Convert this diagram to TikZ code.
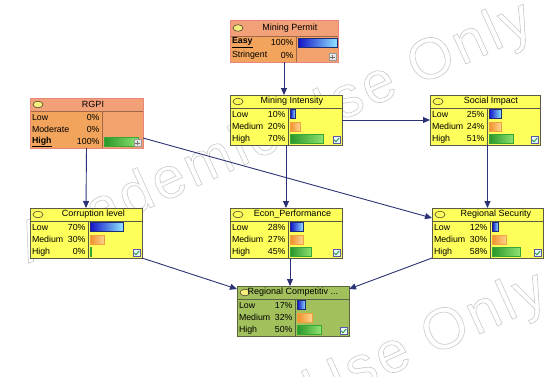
\documentclass[tikz,border=0pt]{standalone}
\usepackage{fontspec}
\setmainfont{Liberation Sans}
\newfontfamily\wmfont[LetterSpace=6]{Liberation Sans}
\usetikzlibrary{arrows.meta,calc}
\definecolor{connc}{HTML}{2B3275}
\definecolor{orBody}{HTML}{F2A45C}
\definecolor{orTitle}{HTML}{F2A078}
\definecolor{orPanel}{HTML}{F2A26C}
\definecolor{orLine}{HTML}{A06848}
\definecolor{orFrame}{HTML}{E8867E}
\definecolor{ylBody}{HTML}{FFFF5C}
\definecolor{ylLine}{HTML}{5A5A48}
\definecolor{grBody}{HTML}{A2C15C}
\definecolor{grLine}{HTML}{5A6440}
\definecolor{ovFill}{HTML}{F6EE7C}
\definecolor{ovLine}{HTML}{504830}
\definecolor{bBlueL}{HTML}{1414C8}
\definecolor{bBlueR}{HTML}{90E8FF}
\definecolor{bBlueD}{HTML}{1E2C78}
\definecolor{bOrL}{HTML}{F0922E}
\definecolor{bOrR}{HTML}{FFD690}
\definecolor{bOrD}{HTML}{F0A040}
\definecolor{bGrL}{HTML}{2A982A}
\definecolor{bGrR}{HTML}{8EE270}
\definecolor{bGrD}{HTML}{36A636}
\definecolor{chkc}{HTML}{1F9A3A}
\tikzset{
  every node/.style={inner sep=0pt,outer sep=0pt},
  conn/.style={draw=connc,line width=0.9pt,-{Triangle[length=7pt,width=6pt]}},
  rowtext/.style={font=\fontsize{8.8}{10}\selectfont},
  titletext/.style={font=\fontsize{9}{10}\selectfont},
  orangebody/.style={fill=orBody}, orangetitle/.style={fill=orTitle}, orangepanel/.style={fill=orPanel},
  orangeline/.style={draw=orLine,line width=0.7pt}, orangeframe/.style={draw=orFrame,line width=1pt},
  orangeoval/.style={draw=ovLine,fill=ovFill,line width=0.6pt},
  yellowbody/.style={fill=ylBody}, yellowtitle/.style={fill=ylBody}, yellowpanel/.style={fill=ylBody},
  yellowline/.style={draw=ylLine,line width=0.7pt}, yellowframe/.style={draw=ylLine,line width=1pt},
  yellowoval/.style={draw=ovLine,fill=ylBody,line width=0.6pt},
  greenbody/.style={fill=grBody}, greentitle/.style={fill=grBody}, greenpanel/.style={fill=grBody},
  greenline/.style={draw=grLine,line width=0.7pt}, greenframe/.style={draw=grLine,line width=1pt},
  greenoval/.style={draw=ovLine,fill=ovFill,line width=0.6pt},
  bluebar/.style={left color=bBlueL,right color=bBlueR,draw=bBlueD,line width=0.5pt},
  orangebar/.style={left color=bOrL,right color=bOrR,draw=bOrD,line width=0.5pt},
  greenbar/.style={left color=bGrL,right color=bGrR,draw=bGrD,line width=0.5pt},
  iconbox/.style={fill=white!92!cyan,draw=gray!70!blue,line width=0.5pt},
  plusbox/.style={fill=gray!20,draw=gray!80,line width=0.5pt},
  watermark/.style={rotate=24.5,text=gray!42,font=\wmfont\fontsize{58}{58}\selectfont}
}
% kind, id, x, y, w, h, title height, divider x
\newcommand\bnbox[8]{%
  \fill[#1body] (#3,#4) rectangle ++(#5,#6);
  \fill[#1title] (#3,#4) rectangle ++(#5,#7);
  \fill[#1panel] (#8,#4+#7) rectangle (#3+#5,#4+#6);
  \draw[#1line] (#3,#4+#7) -- ++(#5,0);
  \draw[#1line] (#8,#4+#7) -- (#8,#4+#6);
  \node[#1frame,anchor=north west,minimum width=#5pt,minimum height=#6pt] (#2) at (#3,#4) {};}
% kind, id, x, y, title height, title centre x, text
\newcommand\bntitle[7]{%
  \draw[#1oval] (#3+8,#4+#5/2) ellipse [x radius=5pt,y radius=3.3pt];
  \node[titletext] (#2t) at (#6,#4+#5/2) {#7};}
% id, x, y centre, divider x, label, pct, bar length, bar kind
\newcommand\bnrow[8]{%
  \node[rowtext,anchor=west] (#1a) at (#2+2,#3) {#5};
  \node[rowtext,anchor=east] (#1b) at (#4-2.5,#3) {#6};
  \ifdim#7pt>0pt \draw[#8bar] (#4+2.5,#3-4.5) rectangle ++(#7,9);\fi}
\newcommand\bncheck[1]{%
  \draw[iconbox] ($(#1.south east)+(-9,-1.5)$) rectangle ++(7,-7);
  \draw[chkc,line width=0.9pt] ($(#1.south east)+(-7.6,-5)$) -- ++(1.6,1.8) -- ++(3.2,-3.8);}
\newcommand\bnplus[1]{%
  \draw[plusbox] ($(#1.south east)+(-9,-1.5)$) rectangle ++(7,-7);
  \draw[gray!90!black,line width=0.6pt] ($(#1.south east)+(-5.5,-2.8)$) -- ++(0,-4.4)
    ($(#1.south east)+(-7.7,-5)$) -- ++(4.4,0);}
\begin{document}
\begin{tikzpicture}[x=1pt,y=-1pt]
\useasboundingbox (0,0) rectangle (550,376);
\clip (0,0) rectangle (550,376);
\fill[white] (0,0) rectangle (550,376);
% watermark
\node[watermark] (wm1) at (276,134) {\special{pdf:literal direct 0.6 w 1 Tr}Academic Use Only\special{pdf:literal direct 0 Tr}};
\node[watermark] (wm2) at (290,404) {\special{pdf:literal direct 0.6 w 1 Tr}Academic Use Only\special{pdf:literal direct 0 Tr}};
% Mining Permit
\bnbox{orange}{MP}{230}{20}{108}{42}{16}{296}
\bntitle{orange}{MP}{230}{20}{16}{290}{Mining Permit}
\bnrow{MPr1}{230}{42.5}{296}{\underline{\textbf{Easy}}}{100\%}{39}{blue}
\bnrow{MPr2}{230}{55.5}{296}{Stringent}{0\%}{0}{blue}
\bnplus{MP}
% RGPI
\bnbox{orange}{RGPI}{30}{98}{113}{50}{13}{102}
\bntitle{orange}{RGPI}{30}{98}{13}{93}{RGPI}
\bnrow{RGr1}{30}{117.2}{102}{Low}{0\%}{0}{blue}
\bnrow{RGr2}{30}{129.5}{102}{Moderate}{0\%}{0}{orange}
\bnrow{RGr3}{30}{141.8}{102}{\underline{\textbf{High}}}{100\%}{34}{green}
\bnplus{RGPI}
% Mining Intensity
\bnbox{yellow}{MI}{230}{95}{112}{50}{13}{288}
\bntitle{yellow}{MI}{230}{95}{13}{292}{Mining Intensity}
\bnrow{MIr1}{230}{114.2}{288}{Low}{10\%}{4.7}{blue}
\bnrow{MIr2}{230}{126.5}{288}{Medium}{20\%}{9.4}{orange}
\bnrow{MIr3}{230}{138.8}{288}{High}{70\%}{32.9}{green}
\bncheck{MI}
% Social Impact
\bnbox{yellow}{SI}{430}{95}{110}{50}{13}{487}
\bntitle{yellow}{SI}{430}{95}{13}{491}{Social Impact}
\bnrow{SIr1}{430}{114.2}{487}{Low}{25\%}{11.8}{blue}
\bnrow{SIr2}{430}{126.5}{487}{Medium}{24\%}{11.3}{orange}
\bnrow{SIr3}{430}{138.8}{487}{High}{51\%}{24}{green}
\bncheck{SI}
% Corruption level
\bnbox{yellow}{CL}{30}{208}{112}{50}{13}{88}
\bntitle{yellow}{CL}{30}{208}{13}{93.5}{Corruption level}
\bnrow{CLr1}{30}{227.2}{88}{Low}{70\%}{32.9}{blue}
\bnrow{CLr2}{30}{239.5}{88}{Medium}{30\%}{14.1}{orange}
\bnrow{CLr3}{30}{251.8}{88}{High}{0\%}{0.6}{green}
\bncheck{CL}
% Econ_Performance
\bnbox{yellow}{EP}{230}{208}{112}{50}{13}{288}
\bntitle{yellow}{EP}{230}{208}{13}{292.5}{Econ\_Performance}
\bnrow{EPr1}{230}{227.2}{288}{Low}{28\%}{13.2}{blue}
\bnrow{EPr2}{230}{239.5}{288}{Medium}{27\%}{12.7}{orange}
\bnrow{EPr3}{230}{251.8}{288}{High}{45\%}{21.2}{green}
\bncheck{EP}
% Regional Security
\bnbox{yellow}{RS}{432}{208}{111}{50}{13}{490}
\bntitle{yellow}{RS}{432}{208}{13}{496}{Regional Security}
\bnrow{RSr1}{432}{227.2}{490}{Low}{12\%}{5.6}{blue}
\bnrow{RSr2}{432}{239.5}{490}{Medium}{30\%}{14.1}{orange}
\bnrow{RSr3}{432}{251.8}{490}{High}{58\%}{27.3}{green}
\bncheck{RS}
% Regional Competitiveness
\bnbox{green}{RC}{237}{286}{112}{50}{13}{295}
\bntitle{green}{RC}{237}{286}{13}{293}{Regional Competitiv ...}
\bnrow{RCr1}{237}{305.2}{295}{Low}{17\%}{8}{blue}
\bnrow{RCr2}{237}{317.5}{295}{Medium}{32\%}{15}{orange}
\bnrow{RCr3}{237}{329.8}{295}{High}{50\%}{23.5}{green}
\bncheck{RC}
% connectors
\draw[conn] (MP.south) -- (MP.south |- MI.north);
\draw[conn] (MI.east) -- (SI.west);
\draw[conn] (MI.south) -- (EP.north);
\draw[conn] (RS.north |- SI.south) -- (RS.north);
\draw[conn] (RGPI.south) -- (CL.north);
\draw[conn] ($(RGPI.north east)+(0,40)$) -- ($(RS.north west)+(0,10)$);
\draw[conn] (CL.south east) -- ($(RC.north west)+(0,3)$);
\draw[conn] ($(EP.south)+(4,0)$) -- ($(RC.north)+(-3,0)$);
\draw[conn] (RS.south west) -- ($(RC.north east)+(0,3)$);
\end{tikzpicture}
\end{document}
